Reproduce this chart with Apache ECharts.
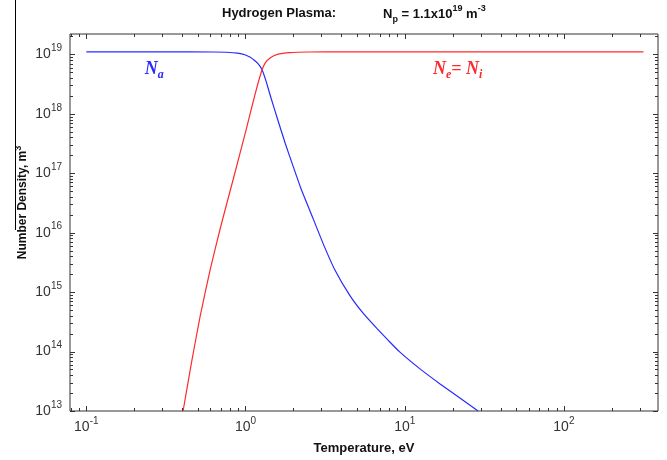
<!DOCTYPE html>
<html><head><meta charset="utf-8">
<script src="https://cdn.jsdelivr.net/npm/echarts@6/dist/echarts.min.js"></script>
<style>html,body{margin:0;padding:0;background:#fff}#c{width:667px;height:460px}</style>
</head><body><div id="c"></div>
<script>
// ---- data ----
const temperatureNa = [0.1, 0.316, 0.631, 0.759, 0.891, 1.0, 1.072, 1.135, 1.202, 1.271, 1.349, 1.445, 1.585, 1.778, 1.995, 2.239, 2.655, 3.069, 3.631, 4.529, 5.495, 6.683, 7.943, 9.333, 12.59, 16.6, 21.88, 28.91];
const densityNa     = [1.1e19, 1.1e19, 1.096e19, 1.084e19, 1.047e19, 9.77e18, 8.91e18, 7.94e18, 6.92e18, 5.5e18, 3.47e18, 1.86e18, 8.32e17, 3.16e17, 1.29e17, 5.37e16, 1.74e16, 6.61e15, 2.40e15, 8.71e14, 4.37e14, 2.45e14, 1.51e14, 9.77e13, 5.01e13, 2.88e13, 1.70e13, 1.0e13];
const temperatureNe = [0.4055, 0.457, 0.5176, 0.6026, 0.7015, 0.8414, 1.007, 1.114, 1.189, 1.271, 1.334, 1.426, 1.585, 1.901, 2.512, 3.98, 316];
const densityNe     = [1.0e13, 6.31e13, 3.80e14, 2.51e15, 1.32e16, 8.32e16, 5.25e17, 1.55e18, 3.02e18, 5.5e18, 7.24e18, 8.71e18, 1.0e19, 1.07e19, 1.096e19, 1.1e19, 1.1e19];
const xTickExponents = [-1, 0, 1, 2];
const yTickExponents = [13, 14, 15, 16, 17, 18, 19];
const xRange = [0.079, 390];
const yRange = [1e13, 2.2e19];
const titleLeft = 'Hydrogen Plasma:';
const titleRight = '{b|N}{sub|p}{b| = 1.1x10}{sup|19}{b| m}{sup|-3}';
const xName = 'Temperature, eV';
const yName = '{b|Number Density, m}{s|3}';

// ---- helpers ----
const axisColor = '#333';
function zip(xs, ys) { return xs.map((x, i) => [x, ys[i]]); }
function logTicks(lo, hi) {
  const out = [];
  for (let e = Math.floor(Math.log10(lo)); e <= Math.ceil(Math.log10(hi)); e++) {
    for (let m = 1; m <= 9; m++) {
      const v = m * Math.pow(10, e);
      if (v >= lo * 0.9999 && v <= hi * 1.0001) out.push([v, m === 1 ? 1 : 0]);
    }
  }
  return out;
}
function powLabel(exps) {
  return function (value) {
    const l = Math.log10(value);
    const e = Math.round(l);
    if (Math.abs(l - e) > 1e-6 || exps.indexOf(e) < 0) return '';
    return '{b|10}{s|' + e + '}';
  };
}
const labelRich = {
  b: { fontFamily: 'Liberation Sans', fontSize: 14, color: axisColor, lineHeight: 22 },
  s: { fontFamily: 'Liberation Sans', fontSize: 10, color: axisColor, verticalAlign: 'top' }
};
const xTicks = logTicks(xRange[0], xRange[1]).map(t => [t[0], yRange[0], t[1]]);
const yTicks = logTicks(yRange[0], yRange[1]).map(t => [xRange[0], t[0], t[1]]);

function renderXTick(params, api) {
  const cs = params.coordSys;
  const x = Math.round(api.coord([api.value(0), api.value(1)])[0]) + 0.5;
  const len = api.value(2) ? 5 : 3;
  const b = cs.y + cs.height, t = cs.y;
  return { type: 'group', children: [
    { type: 'line', shape: { x1: x, y1: b, x2: x, y2: b - len }, style: { stroke: axisColor, lineWidth: 1 } },
    { type: 'line', shape: { x1: x, y1: t, x2: x, y2: t + len }, style: { stroke: axisColor, lineWidth: 1 } }
  ]};
}
function renderYTick(params, api) {
  const cs = params.coordSys;
  const y = Math.round(api.coord([api.value(0), api.value(1)])[1]) + 0.5;
  const len = api.value(2) ? 5 : 3;
  const l = cs.x, r = cs.x + cs.width;
  return { type: 'group', children: [
    { type: 'line', shape: { x1: l, y1: y, x2: l + len, y2: y }, style: { stroke: axisColor, lineWidth: 1 } },
    { type: 'line', shape: { x1: r, y1: y, x2: r - len, y2: y }, style: { stroke: axisColor, lineWidth: 1 } }
  ]};
}

const annoRich = (color) => ({
  n: { fontFamily: 'Liberation Serif', fontStyle: 'italic', fontWeight: 'bold', fontSize: 18, color: color, lineHeight: 22 },
  s: { fontFamily: 'Liberation Serif', fontStyle: 'italic', fontWeight: 'bold', fontSize: 12, color: color, verticalAlign: 'bottom' }
});

const chart = echarts.init(document.getElementById('c'));
chart.setOption({
  animation: false,
  backgroundColor: '#fff',
  title: [
    { text: titleLeft, left: 222, top: 7, padding: 0, textStyle: { fontFamily: 'Liberation Sans', fontWeight: 'bold', fontSize: 13, color: '#111' } },
    { text: titleRight, left: 383, top: 4, padding: 0, textStyle: { rich: {
      b: { fontFamily: 'Liberation Sans', fontWeight: 'bold', fontSize: 13, color: '#111', lineHeight: 20 },
      sub: { fontFamily: 'Liberation Sans', fontWeight: 'bold', fontSize: 9, color: '#111', verticalAlign: 'bottom' },
      sup: { fontFamily: 'Liberation Sans', fontWeight: 'bold', fontSize: 9, color: '#111', verticalAlign: 'top' }
    } } }
  ],
  // stray vertical stroke at the far left of the reference (the y-title superscript's minus sign)
  graphic: { elements: [
    { type: 'rect', left: 15, top: 0, z: 100, shape: { width: 1, height: 230 }, style: { fill: '#000' } }
  ] },
  grid: { left: 70, right: 9, top: 34, bottom: 42, show: true, borderColor: axisColor, borderWidth: 1, backgroundColor: 'transparent' },
  xAxis: {
    type: 'log', min: xRange[0], max: xRange[1],
    name: xName, nameLocation: 'middle', nameGap: 31, nameMoveOverlap: false,
    nameTextStyle: { fontFamily: 'Liberation Sans', fontWeight: 'bold', fontSize: 13, color: '#111' },
    axisLine: { show: false }, axisTick: { show: false }, splitLine: { show: false }, minorTick: { show: false },
    axisLabel: { formatter: powLabel(xTickExponents), margin: 5, rich: labelRich, showMinLabel: false, showMaxLabel: false }
  },
  yAxis: {
    type: 'log', min: yRange[0], max: yRange[1],
    name: yName, nameLocation: 'middle', nameRotate: 90, nameGap: 38, nameMoveOverlap: false,
    nameTextStyle: { padding: [0, 0, 0, 40], rich: {
      b: { fontFamily: 'Liberation Sans', fontWeight: 'bold', fontSize: 12, color: '#111', lineHeight: 18 },
      s: { fontFamily: 'Liberation Sans', fontWeight: 'bold', fontSize: 9, color: '#111', verticalAlign: 'top' }
    } },
    axisLine: { show: false }, axisTick: { show: false }, splitLine: { show: false }, minorTick: { show: false },
    axisLabel: { formatter: powLabel(yTickExponents), margin: 8, rich: labelRich, showMaxLabel: false }
  },
  series: [
    {
      name: 'Na', type: 'line', data: zip(temperatureNa, densityNa), showSymbol: false, smooth: 0.15,
      lineStyle: { color: '#2a2aff', width: 1.2 }, itemStyle: { color: '#2a2aff' }, z: 4,
      markPoint: { symbol: 'circle', symbolSize: 0, silent: true,
        label: { show: true, position: 'inside', formatter: '{n|N}{s|a}', rich: annoRich('#2a2aff') },
        data: [{ coord: [0.267, 5.5e18] }] }
    },
    {
      name: 'Ne', type: 'line', data: zip(temperatureNe, densityNe), showSymbol: false, smooth: 0.15,
      lineStyle: { color: '#ff2a2a', width: 1.2 }, itemStyle: { color: '#ff2a2a' }, z: 4,
      markPoint: { symbol: 'circle', symbolSize: 0, silent: true,
        label: { show: true, position: 'inside', formatter: '{n|N}{s|e}{n|= N}{s|i}', rich: annoRich('#ff2a2a') },
        data: [{ coord: [21.5, 5.5e18] }] }
    },
    { type: 'custom', renderItem: renderXTick, data: xTicks, encode: { x: 0, y: 1 }, silent: true, clip: false, z: 5 },
    { type: 'custom', renderItem: renderYTick, data: yTicks, encode: { x: 0, y: 1 }, silent: true, clip: false, z: 5 }
  ]
});
</script></body></html>
